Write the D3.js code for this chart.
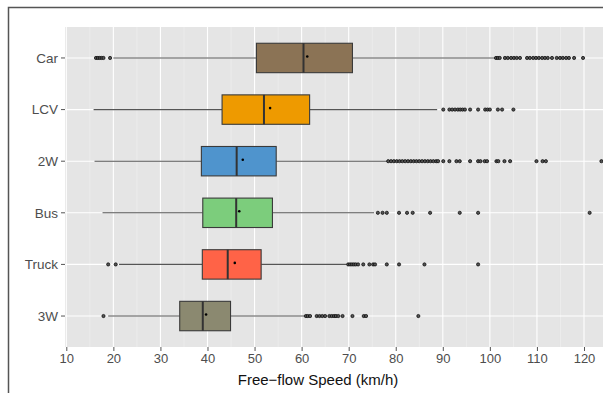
<!DOCTYPE html>
<html><head><meta charset="utf-8">
<script src="https://cdn.jsdelivr.net/npm/d3@7"></script>
<style>body{margin:0;background:#fff}svg{display:block}</style>
</head><body>
<svg id="chart" width="603" height="393"></svg>
<script>
const categories = ["Car","LCV","2W","Bus","Truck","3W"];
const q1 =      [50.4, 43.1, 38.7, 39.0, 38.9, 34.1];
const medians = [60.4, 52.0, 46.2, 46.1, 44.3, 39.0];
const q3 =      [70.8, 61.7, 54.6, 53.8, 51.4, 44.9];
const means =   [61.2, 53.3, 47.5, 46.75, 45.8, 39.7];
const whiskLo = [20.0, 15.8, 16.0, 17.7, 21.2, 18.9];
const whiskHi = [101.1, 88.8, 78.2, 75.4, 69.6, 60.7];
const outCar = [16.3,16.7,17.1,17.5,17.9,19.3,101.3,101.7,102.1,103.2,103.8,104.5,105.1,105.7,106.4,107.9,108.5,109.2,109.8,110.4,111.1,111.7,112.3,113.2,114.2,114.9,115.5,116.2,116.8,117.9,119.8];
const outLCV = [90.1,91.4,92.0,92.6,93.2,93.7,94.2,94.7,95.8,97.5,99.0,99.5,100.0,101.7,102.6,105.0];
const out2W = [78.4,79.0,79.6,80.2,80.8,81.4,82.0,82.6,83.2,83.8,84.4,85.0,85.6,86.2,86.8,87.4,88.0,88.6,89.0,90.1,91.4,92.9,93.6,95.8,97.5,98.0,98.9,99.4,101.4,101.8,103.1,104.3,109.9,111.2,111.9,123.7];
const outBus = [76.2,77.2,78.1,80.7,82.4,83.6,87.3,93.6,97.5,121.2];
const outTruck = [18.9,20.5,69.9,70.3,70.7,71.1,71.5,72.0,73.1,74.4,75.2,75.6,78.1,80.7,86.1,97.5];
const out3W = [17.9,60.9,61.3,61.8,63.2,63.8,64.4,65.0,65.9,66.4,66.9,67.3,67.8,68.7,70.8,73.2,73.7,84.8];
const outliers = [outCar,outLCV,out2W,outBus,outTruck,out3W];
const fills = ["#8B7355","#EE9A00","#4F94CD","#7CCD7C","#FF6347","#8B8970"];
const xTicks = [10,20,30,40,50,60,70,80,90,100,110,120];
const xMinor = [15,25,35,45,55,65,75,85,95,105,115,125];
const xTitle = "Free\u2212flow Speed (km/h)";

const svg = d3.select("#chart");
const W = 603, H = 393;
const pL = 65, pT = 27, pB = 347, pR = 640;

const x = d3.scaleLinear().domain([10,120]).range([66.3,584]);
const y = d3.scaleBand().domain(categories).range([pT,pB]).paddingOuter(0.1).paddingInner(0);
// ggplot discrete expansion: 0.6 units on each side
const step = (pB-pT)/(categories.length - 1 + 1.2);
const yc = c => pT + 0.6*step + categories.indexOf(c)*step;

// outer frame
svg.append("rect").attr("x",8.5).attr("y",7.5).attr("width",700).attr("height",500)
  .attr("fill","#fff").attr("stroke","#555").attr("stroke-width",1.5);

const clip = svg.append("clipPath").attr("id","pc").append("rect")
  .attr("x",pL).attr("y",pT).attr("width",W-pL).attr("height",pB-pT);

svg.append("rect").attr("x",pL).attr("y",pT).attr("width",pR-pL).attr("height",pB-pT).attr("fill","#E5E5E5");
const g = svg.append("g").attr("clip-path","url(#pc)");

g.selectAll(".minor").data(xMinor).join("line")
  .attr("x1",d=>x(d)).attr("x2",d=>x(d)).attr("y1",pT).attr("y2",pB)
  .attr("stroke","#F2F2F2").attr("stroke-width",0.6);
g.selectAll(".major").data(xTicks).join("line")
  .attr("x1",d=>x(d)).attr("x2",d=>x(d)).attr("y1",pT).attr("y2",pB)
  .attr("stroke","#fff").attr("stroke-width",1.1);
g.selectAll(".hmajor").data(categories).join("line")
  .attr("x1",pL).attr("x2",W).attr("y1",d=>yc(d)).attr("y2",d=>yc(d))
  .attr("stroke","#fff").attr("stroke-width",1.1);

const bh = step*0.57;
categories.forEach((c,i)=>{
  const cy = yc(c);
  // whiskers
  g.append("line").attr("x1",x(whiskLo[i])).attr("x2",x(q1[i])).attr("y1",cy).attr("y2",cy)
    .attr("stroke","#555").attr("stroke-width",1.1);
  g.append("line").attr("x1",x(q3[i])).attr("x2",x(whiskHi[i])).attr("y1",cy).attr("y2",cy)
    .attr("stroke","#555").attr("stroke-width",1.1);
  // box
  g.append("rect").attr("x",x(q1[i])).attr("y",cy-bh/2).attr("width",x(q3[i])-x(q1[i])).attr("height",bh)
    .attr("fill",fills[i]).attr("stroke","#3a3a3a").attr("stroke-width",1.1);
  g.append("line").attr("x1",x(medians[i])).attr("x2",x(medians[i])).attr("y1",cy-bh/2).attr("y2",cy+bh/2)
    .attr("stroke","#333").attr("stroke-width",2);
  // outliers
  g.selectAll(null).data(outliers[i]).join("circle")
    .attr("cx",d=>x(d)).attr("cy",cy).attr("r",1.6)
    .attr("fill","#555").attr("stroke","#000").attr("stroke-width",0.7);
  // mean
  g.append("circle").attr("cx",x(means[i])).attr("cy",cy-1.5).attr("r",1.3).attr("fill","#000");
});

// axes
const xa = svg.append("g").attr("transform",`translate(0,${pB})`)
  .call(d3.axisBottom(x).tickValues(xTicks).tickSize(4).tickPadding(3));
xa.select(".domain").remove();
xa.selectAll("line").attr("stroke","#555");
xa.selectAll("text").attr("fill","#4D4D4D").attr("font-size",13).attr("font-family","Liberation Sans, Arial, sans-serif");

const ya = svg.append("g").attr("transform",`translate(${pL},0)`);
categories.forEach(c=>{
  ya.append("line").attr("x1",-4).attr("x2",0).attr("y1",yc(c)).attr("y2",yc(c)).attr("stroke","#555");
  ya.append("text").attr("x",-7).attr("y",yc(c)).attr("dy","0.35em").attr("text-anchor","end")
    .attr("fill","#4D4D4D").attr("font-size",13.5).attr("font-family","Liberation Sans, Arial, sans-serif").text(c);
});

svg.append("text").attr("x",318).attr("y",385).attr("text-anchor","middle")
  .attr("font-size",15).attr("fill","#111").attr("font-family","Liberation Sans, Arial, sans-serif").text(xTitle);
</script>
</body></html>
